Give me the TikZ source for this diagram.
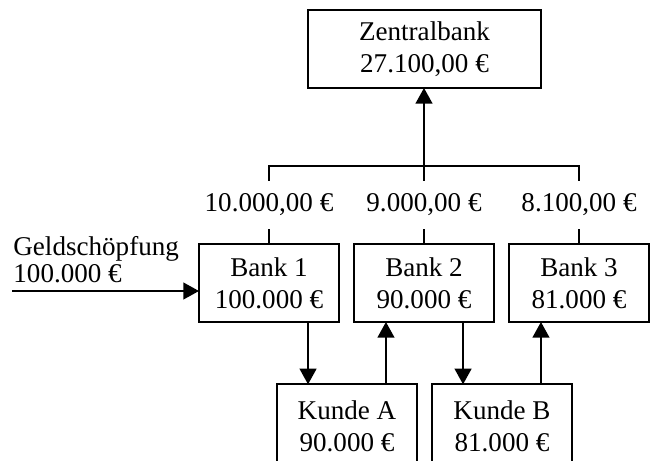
\documentclass[tikz,border=0pt]{standalone}
\usepackage{fontspec}
\setmainfont{Liberation Serif}
\usetikzlibrary{arrows.meta,positioning}

\begin{document}
\begin{tikzpicture}[
  x=0.48pt,y=-0.48pt,
  node distance=7.2pt,
  box/.style={draw,line width=1pt,outer sep=0pt,minimum width=67.2pt,minimum height=37.4pt,align=center,inner sep=0pt,font=\fontsize{13}{15.5}\selectfont},
  amount/.style={inner sep=0pt,outer sep=0pt,minimum height=23.5pt,font=\fontsize{13}{11}\selectfont},
  link/.style={line width=1pt},
  arr/.style={-{Triangle[length=7.5pt,width=8pt]},line width=1pt}
]
\clip (0,0) rectangle (650,461);
\node[box,minimum width=111.8pt] (zb) at (424.5,49) {Zentralbank\\27.100,00 €};
\node[box] (b1) at (269,283) {Bank 1\\100.000 €};
\node[box,right=of b1] (b2) {Bank 2\\90.000 €};
\node[box,right=of b2] (b3) {Bank 3\\81.000 €};
\node[box,minimum height=40pt] (ka) at (347,426) {Kunde A\\90.000 €};
\node[box,minimum height=40pt,right=of ka] (kb) {Kunde B\\81.000 €};
% Abgaben an die Zentralbank
\node[amount] (l1) at (b1 |- 0,205) {10.000,00 €};
\node[amount] (l2) at (b2 |- 0,205) {9.000,00 €};
\node[amount] (l3) at (b3 |- 0,205) {8.100,00 €};
\coordinate (bus) at (l2 |- 0,166);
\draw[link] (b1.north) -- (l1.south);
\draw[link] (b2.north) -- (l2.south);
\draw[link] (b3.north) -- (l3.south);
\draw[link] (l1.north) |- (bus) -| (l3.north);
\draw[link] (l2.north) -- (bus);
\draw[arr] (bus) -- (zb.south -| bus);
% Kredit und Einlage
\coordinate (k1) at ([xshift=14.9pt]ka.north west);
\coordinate (k2) at ([xshift=-14.9pt]ka.north east);
\coordinate (k3) at ([xshift=14.9pt]kb.north west);
\coordinate (k4) at ([xshift=-14.9pt]kb.north east);
\draw[arr] (k1 |- b1.south) -- (k1);
\draw[arr] (k2) -- (k2 |- b2.south);
\draw[arr] (k3 |- b2.south) -- (k3);
\draw[arr] (k4) -- (k4 |- b3.south);
% Geldschoepfung
\node[align=left,anchor=west,inner sep=0pt,font=\fontsize{13}{13}\selectfont] (gs) at (13,260) {Geldschöpfung\\100.000 €};
\coordinate (src) at (12,291);
\draw[arr] (src) -- (src -| b1.west);
\end{tikzpicture}
\end{document}
